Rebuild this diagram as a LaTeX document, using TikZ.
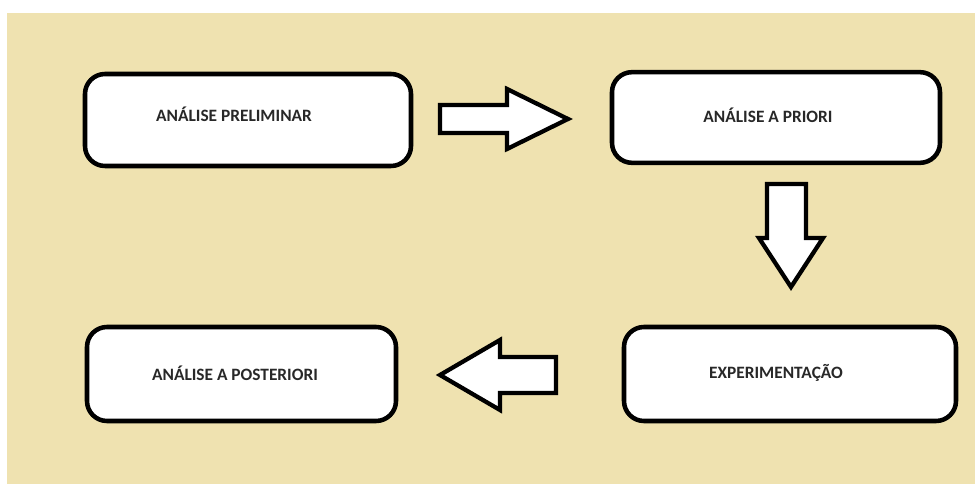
\documentclass[tikz,border=0pt]{standalone}
\usepackage{fontspec}
\setmainfont{Carlito}

\definecolor{bgtan}{RGB}{239,226,176}
\definecolor{inkgrey}{RGB}{40,40,40}

\tikzset{every picture/.style={line width=0.75pt}}
\tikzset{
  stagebox/.style={draw=black, fill=white, line width=3.4pt, rounded corners=15pt, inner sep=0pt},
  blockarrow/.style={draw=black, fill=white, line width=3.2pt, line join=miter},
  stagetext/.style={anchor=center, inner sep=0.75pt, text=inkgrey, font=\bfseries\fontsize{13}{15}\selectfont}
}

\begin{document}
\begin{tikzpicture}[x=0.75pt,y=0.75pt,yscale=-1,xscale=1]
\useasboundingbox (0,0) rectangle (975,484);

%Shape: Background
\fill [bgtan] (7,13) rectangle (975,484);

%Shape: Rounded Rect
\node [stagebox, minimum width=244.5pt, minimum height=69pt] (prelim) at (248,120) {};
%Shape: Rounded Rect
\node [stagebox, minimum width=246pt, minimum height=68pt] (priori) at (776,117.5) {};
%Shape: Rounded Rect
\node [stagebox, minimum width=249pt, minimum height=70.5pt] (experim) at (790,374) {};
%Shape: Rounded Rect
\node [stagebox, minimum width=231.75pt, minimum height=70.5pt] (posteriori) at (241.5,374) {};

%Right Arrow
\draw [blockarrow] (440,105) -- (507,105) -- (507,89) -- (568,119) -- (507,149) -- (507,133) -- (440,133) -- cycle ;
%Down Arrow
\draw [blockarrow] (767,184) -- (806,184) -- (806,238) -- (823,238) -- (791,287) -- (759,238) -- (767,238) -- cycle ;
%Left Arrow
\draw [blockarrow] (556,357) -- (500,357) -- (500,340) -- (440,375) -- (500,410) -- (500,393) -- (556,393) -- cycle ;

% Text Node
\draw (234,114) node [stagetext] (prelimtxt) {ANÁLISE PRELIMINAR};
% Text Node
\draw (768,115) node [stagetext] (prioritxt) {ANÁLISE A PRIORI};
% Text Node
\draw (776,373) node [stagetext] (experimtxt) {EXPERIMENTAÇÃO};
% Text Node
\draw (235,373) node [stagetext] (posterioritxt) {ANÁLISE A POSTERIORI};
\end{tikzpicture}
\end{document}
